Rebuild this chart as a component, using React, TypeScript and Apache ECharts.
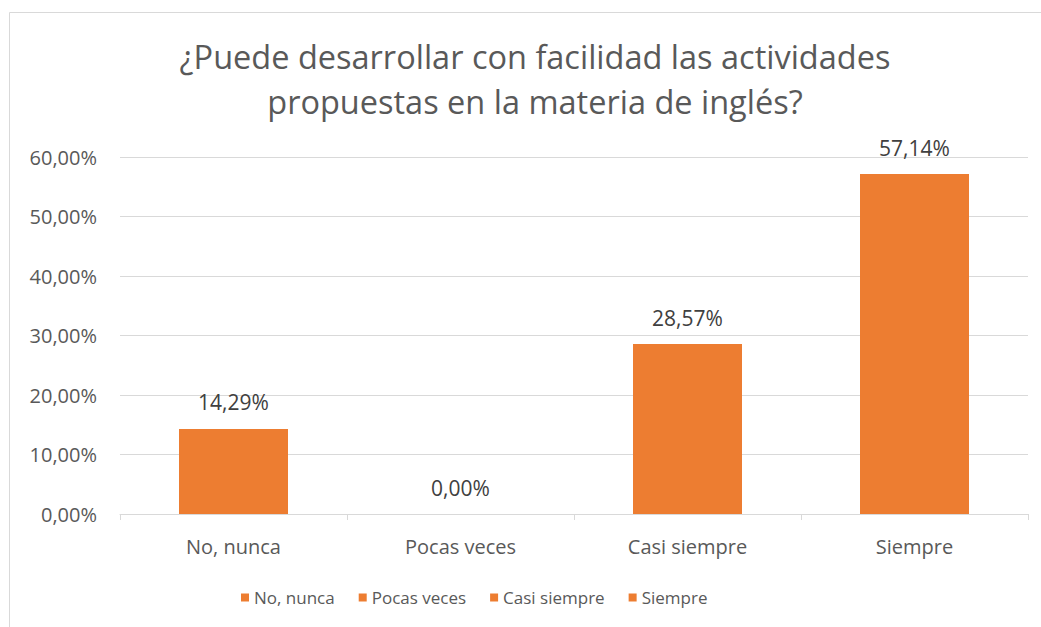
import React, { useEffect, useRef } from "react";
import * as echarts from "echarts";

const categories = ["No, nunca", "Pocas veces", "Casi siempre", "Siempre"];
const values = [14.29, 0.0, 28.57, 57.14];
const titleLines = ["¿Puede desarrollar con facilidad las actividades", "propuestas en la materia de inglés?"];

const fmt = (v: number) => v.toFixed(2).replace(".", ",") + "%";

export default function App() {
  const ref = useRef<HTMLDivElement>(null);
  useEffect(() => {
    if (!ref.current) return;
    const chart = echarts.init(ref.current, undefined, { renderer: "svg" });
    const font = "'Open Sans', sans-serif";
    const series = categories.map((name, i) => ({
      name,
      type: "bar",
      stack: "all",
      barWidth: 109,
      itemStyle: { color: "#ED7D31" },
      data: categories.map((_, j) => (j === i ? values[i] : null)),
      label: {
        show: true,
        position: "top",
        distance: 16,
        color: "#404040",
        fontSize: 21,
        fontFamily: font,
        formatter: (p: any) => fmt(p.value),
      },
    }));
    chart.setOption({
      animation: false,
      textStyle: { fontFamily: font },
      title: {
        text: titleLines.join("\n"),
        left: 530,
        textAlign: "center",
        top: 29,
        textStyle: { fontSize: 32.5, fontWeight: "normal", color: "#595959", lineHeight: 45, fontFamily: font },
      },
      graphic: [
        {
          type: "rect",
          shape: { x: 9.5, y: 12.5, width: 1100, height: 700 },
          style: { fill: "none", stroke: "#d9d9d9", lineWidth: 1 },
          silent: true,
        },
      ],
      legend: {
        bottom: 16,
        left: 236,
        itemWidth: 8,
        itemHeight: 8,
        itemGap: 24,
        icon: "rect",
        textStyle: { fontSize: 17, color: "#595959", fontFamily: font },
        data: categories,
      },
      grid: { left: 120, right: 13, top: 157, bottom: 113 },
      xAxis: {
        type: "category",
        data: categories,
        axisLine: { lineStyle: { color: "#d9d9d9" } },
        axisTick: { show: true, length: 6, lineStyle: { color: "#d9d9d9" } },
        axisLabel: { fontSize: 20, color: "#595959", margin: 22, fontFamily: font },
      },
      yAxis: {
        type: "value",
        min: 0,
        max: 60,
        interval: 10,
        axisLine: { show: false },
        axisTick: { show: false },
        splitLine: { lineStyle: { color: "#d9d9d9" } },
        axisLabel: { fontSize: 20, color: "#595959", margin: 23, fontFamily: font, formatter: (v: number) => fmt(v) },
      },
      series,
    });
    return () => chart.dispose();
  }, []);
  return <div ref={ref} style={{ position: "fixed", left: 0, top: 0, width: 1041, height: 627, background: "#fff" }} />;
}
